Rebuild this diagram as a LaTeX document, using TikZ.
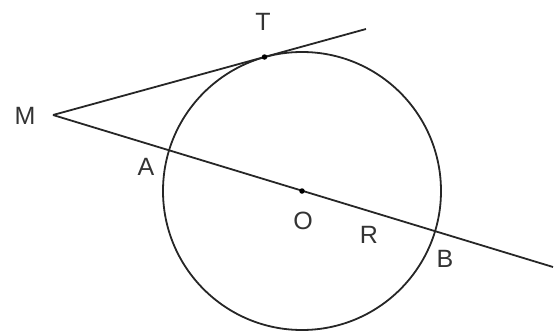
\documentclass[tikz,border=0pt]{standalone}
\usepackage{fontspec}
\setmainfont{Liberation Sans}
\begin{document}
\begin{tikzpicture}[x=1pt,y=-1pt,
  ln/.style={line width=1.8pt,black!85},
  lbl/.style={font=\fontsize{25}{25}\selectfont,inner sep=0pt,text=black!80},
  pt/.style={circle,fill=black,inner sep=0pt,minimum size=5.5pt}]
\useasboundingbox (0,0) rectangle (557,332);
\coordinate (O) at (302,191);
\coordinate (M) at (53,115);
\coordinate (T) at (264.5,57);
\coordinate (E1) at (366,29);
\coordinate (E2) at (553,267);
\draw[ln] (O) circle (139);
\draw[ln] (M) -- (T) -- (E1);
\draw[ln] (M) -- (E2);
\node[pt] (Tp) at (T) {};
\node[pt] (Op) at (O) {};
\node[lbl] (lT) at (263,22) {T};
\node[lbl] (lM) at (25,116) {M};
\node[lbl] (lA) at (146,167) {A};
\node[lbl] (lO) at (303,221) {O};
\node[lbl] (lR) at (369,235) {R};
\node[lbl] (lB) at (445,259) {B};
\end{tikzpicture}
\end{document}
